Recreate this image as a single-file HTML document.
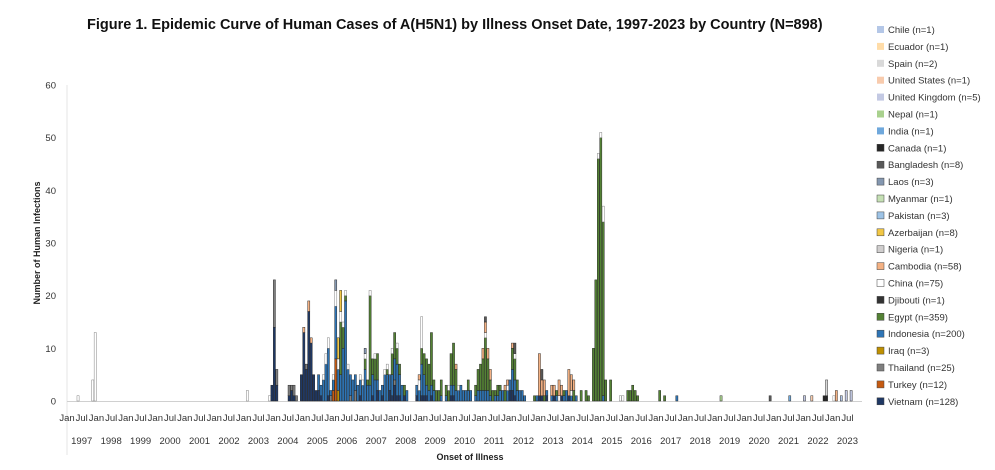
<!DOCTYPE html>
<html><head><meta charset="utf-8">
<style>
body{margin:0;background:#fff;}
svg text{font-family:"Liberation Sans",sans-serif;}
</style></head>
<body>
<svg id="chart" width="995" height="465" viewBox="0 0 995 465" xmlns="http://www.w3.org/2000/svg">
<rect width="995" height="465" fill="#fff"/>
<text x="87" y="29" font-size="14.5" font-weight="bold" fill="#111">Figure 1. Epidemic Curve of Human Cases of A(H5N1) by Illness Onset Date, 1997-2023 by Country (N=898)</text>
<text transform="translate(40,243) rotate(-90)" text-anchor="middle" font-size="9" font-weight="bold" fill="#222">Number of Human Infections</text>
<text x="470" y="460" text-anchor="middle" font-size="9" font-weight="bold" fill="#222">Onset of Illness</text>
<line x1="67" y1="85" x2="67" y2="455" stroke="#e4e4e4" stroke-width="1"/>
<line x1="67" y1="401.5" x2="862" y2="401.5" stroke="#d0d0d0" stroke-width="1"/>
<g id="yticks"></g><g id="xticks"></g><g id="bars"></g><g id="legend"></g>
</svg>
<script>
const yTicks=[0,10,20,30,40,50,60];
const years=[1997,1998,1999,2000,2001,2002,2003,2004,2005,2006,2007,2008,2009,2010,2011,2012,2013,2014,2015,2016,2017,2018,2019,2020,2021,2022,2023];
const halfLabels=["Jan","Jul"];
// month index 0 = Jan 1997
const chinaM=[4,10,11,73,82,104,105,106,108,109,110,111,112,113,114,119,120,121,123,125,129,130,132,134,143,144,155,159,170,179,182,200,205,216,217,218,225,226,312];
const chinaC=[1,4,13,2,1,1,2,2,1,3,2,2,1,1,1,1,1,1,1,1,1,1,1,1,2,6,1,1,1,1,1,1,1,1,1,3,1,1,1];
const vietnamM=[83,84,85,90,91,92,95,96,97,98,99,100,101,102,103,106,119,124,126,128,131,132,133,134,135,137,142,144,145,146,148,156,157,180,181,182,192,193,195,198,201,204];
const vietnamC=[3,14,3,1,2,1,5,13,6,17,11,5,2,2,1,1,1,1,2,1,2,1,3,1,1,1,1,1,1,1,1,1,1,2,2,1,1,1,1,1,1,1];
const thailandM=[84,85,90,91,92,93,97,107,115,117,133];
const thailandC=[9,3,2,1,2,1,1,1,1,2,1];
const indonesiaM=[102,103,104,105,106,107,108,109,110,111,112,113,114,115,116,117,118,119,120,121,122,123,124,125,126,127,128,129,130,131,132,133,134,135,136,138,142,143,144,145,146,147,148,149,152,154,156,157,158,159,160,161,162,163,164,166,167,168,169,170,171,172,174,175,176,177,179,180,181,182,183,184,185,186,191,195,197,199,202,203,205,207,218,248];
const indonesiaC=[3,2,4,7,9,1,2,10,4,5,10,19,6,4,4,3,3,3,3,6,3,3,4,4,2,2,2,5,5,3,4,4,6,4,3,2,2,2,6,4,2,2,2,2,1,1,2,2,2,2,3,2,2,2,2,1,2,2,2,2,2,1,1,1,2,2,2,2,4,3,2,2,2,1,1,1,1,1,1,2,1,1,1,1];
const egyptM=[111,112,113,121,122,123,124,125,126,130,132,133,134,135,137,144,145,146,147,148,149,150,151,152,154,155,156,157,158,163,166,167,168,169,170,171,172,173,174,175,176,178,181,182,183,190,194,199,202,206,209,211,212,214,215,216,217,218,219,221,228,229,230,231,232,241,243];
const egyptC=[10,4,1,2,1,17,3,4,5,1,4,5,3,2,2,3,4,5,5,10,2,2,2,3,2,2,6,8,4,2,2,4,5,6,10,6,3,2,1,2,1,2,4,4,2,1,1,1,1,2,2,2,1,10,23,46,50,33,4,4,2,2,3,2,1,2,1];
const cambodiaM=[96,98,99,143,158,169,170,171,172,178,179,181,192,193,194,197,198,200,201,204,205,206,313];
const cambodiaC=[1,2,1,1,1,2,2,2,2,1,1,1,8,3,3,2,2,3,2,5,3,2,2];
const turkeyM=[108,109];
const turkeyC=[2,8];
const azerbaijanM=[110,111];
const azerbaijanC=[4,4];
const iraqM=[110];
const iraqC=[2];
const laosM=[109,121];
const laosC=[2,1];
const bangladeshM=[170,182,193,286];
const bangladeshC=[1,2,2,1];
const minorM=[266,294,300,303,308,309,309,315,317,319];
const minorC=[1,1,1,1,1,1,3,1,2,2];
const minorCountry=["Nepal","India","United Kingdom","United States","Canada","Canada","Spain","Chile","United Kingdom","United Kingdom"];
const legendNames=["Chile (n=1)","Ecuador (n=1)","Spain (n=2)","United States (n=1)","United Kingdom (n=5)","Nepal (n=1)","India (n=1)","Canada (n=1)","Bangladesh (n=8)","Laos (n=3)","Myanmar (n=1)","Pakistan (n=3)","Azerbaijan (n=8)","Nigeria (n=1)","Cambodia (n=58)","China (n=75)","Djibouti (n=1)","Egypt (n=359)","Indonesia (n=200)","Iraq (n=3)","Thailand (n=25)","Turkey (n=12)","Vietnam (n=128)"];

const NS="http://www.w3.org/2000/svg";
const colorOf={"Chile":"#b4c7e7","Ecuador":"#ffdca8","Spain":"#d9d9d9","United States":"#f8cbad","United Kingdom":"#c3c9e3","Nepal":"#a9d18e","India":"#6fa8dc","Canada":"#262626","Bangladesh":"#595959","Laos":"#8497b0","Myanmar":"#c5e0b4","Pakistan":"#9dc3e6","Azerbaijan":"#f2c744","Nigeria":"#d0cece","Cambodia":"#f4b183","China":"#ffffff","Djibouti":"#333333","Egypt":"#548235","Indonesia":"#2e75b6","Iraq":"#bf9000","Thailand":"#7f7f7f","Turkey":"#c55a11","Vietnam":"#1f3864"};
const x0=67, monthW=29.45/12, y0=401, yPer=316/60;
const xScale=m=>x0+m*monthW;
const yScale=v=>y0-v*yPer;

const yt=document.getElementById('yticks');
yTicks.forEach(v=>{
  const t=document.createElementNS(NS,'text');
  
  
  t.setAttribute('x',56);t.setAttribute('y',yScale(v)+3.5);
  t.setAttribute('text-anchor','end');t.setAttribute('font-size','9.5');t.setAttribute('fill','#333');
  t.textContent=v;yt.appendChild(t);
});
const xt=document.getElementById('xticks');
years.forEach((yr,i)=>{
  halfLabels.forEach((h,j)=>{
    const t=document.createElementNS(NS,'text');
    
    
    t.setAttribute('x',xScale(i*12+j*6));t.setAttribute('y',421);
    t.setAttribute('text-anchor','middle');t.setAttribute('font-size','9.5');t.setAttribute('fill','#333');
    t.textContent=h;xt.appendChild(t);
  });
  const t=document.createElementNS(NS,'text');
  
  
  t.setAttribute('x',xScale(i*12+6));t.setAttribute('y',444);
  t.setAttribute('text-anchor','middle');t.setAttribute('font-size','9.5');t.setAttribute('fill','#333');
  t.textContent=yr;xt.appendChild(t);
});

// stacking order bottom to top
const series=[
  ["Vietnam",vietnamM,vietnamC],["Turkey",turkeyM,turkeyC],["Thailand",thailandM,thailandC],
  ["Iraq",iraqM,iraqC],["Indonesia",indonesiaM,indonesiaC],["Egypt",egyptM,egyptC],
  ["China",chinaM,chinaC],["Cambodia",cambodiaM,cambodiaC],["Azerbaijan",azerbaijanM,azerbaijanC],
  ["Laos",laosM,laosC],["Bangladesh",bangladeshM,bangladeshC]
];
const stack={};
const bg=document.getElementById('bars');
function drawSeg(name,m,c){
  const base=stack[m]||0;
  const r=document.createElementNS(NS,'rect');
  
  
  r.setAttribute('x',xScale(m)+0.15);
  r.setAttribute('width',monthW-0.3);
  r.setAttribute('y',yScale(base+c));
  r.setAttribute('height',c*yPer);
  r.setAttribute('fill',colorOf[name]);
  r.setAttribute('stroke',name==="China"?'#777':'#222');
  r.setAttribute('stroke-width','0.45');
  bg.appendChild(r);
  stack[m]=base+c;
}
series.forEach(([name,ms,cs])=>{ms.forEach((m,i)=>drawSeg(name,m,cs[i]));});
minorM.forEach((m,i)=>drawSeg(minorCountry[i],m,minorC[i]));

const lg=document.getElementById('legend');
legendNames.forEach((n,i)=>{
  const cname=n.replace(/ \(n=\d+\)/,'');
  const y=32+i*16.9;
  const g=document.createElementNS(NS,'g');
  
  
  const r=document.createElementNS(NS,'rect');
  
  
  r.setAttribute('x',877);r.setAttribute('y',y-6);r.setAttribute('width',7);r.setAttribute('height',7);
  r.setAttribute('fill',colorOf[cname]);
  r.setAttribute('stroke',i>=7?'#444':'none');r.setAttribute('stroke-width','0.5');
  const t=document.createElementNS(NS,'text');
  
  
  t.setAttribute('x',888);t.setAttribute('y',y+1);t.setAttribute('font-size','9.5');t.setAttribute('fill','#333');
  t.textContent=n;
  g.appendChild(r);g.appendChild(t);lg.appendChild(g);
});
</script>
</body></html>
